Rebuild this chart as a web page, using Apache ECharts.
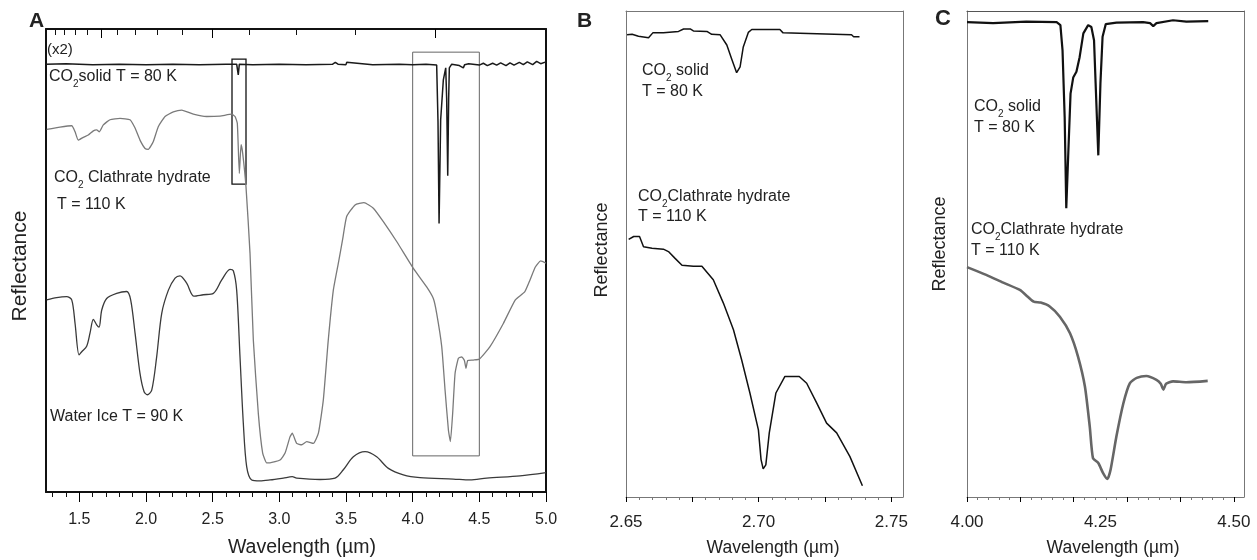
<!DOCTYPE html>
<html>
<head>
<meta charset="utf-8">
<script src="https://cdn.jsdelivr.net/npm/echarts@6/dist/echarts.min.js"></script>
<style>
html,body{margin:0;padding:0;background:#fff;}
#chart{width:1257px;height:560px;}
</style>
</head>
<body>
<div id="chart"></div>
<script>
// ---------------- DATA ----------------
// Panel A (full spectrum), reflectance in arbitrary units
const aSolidWl = [1.25,1.4,1.6,1.8,2.0,2.2,2.4,2.6,2.68,2.692,2.70,2.8,3.0,3.2,3.40,3.42,3.44,3.50,3.505,3.52,3.7,3.9,4.0,4.1,4.18,4.19,4.198,4.21,4.23,4.248,4.255,4.263,4.27,4.275,4.293,4.35,4.38,4.39,4.42,4.5,4.53,4.56,4.6,4.63,4.66,4.7,4.73,4.76,4.8,4.83,4.86,4.9,4.93,4.96,5.0];
const aSolidR  = [92.4,92.5,92.3,92.4,92.3,92.4,92.3,92.4,92.4,90.1,92.4,92.3,92.4,92.3,92.4,92.8,92.4,92.3,92.8,92.4,92.3,92.4,92.3,92.4,92.2,80.0,58.0,80.4,89.0,91.6,85.0,68.3,85.0,91.6,92.4,92.1,91.6,92.3,92.5,92.2,92.6,92.1,92.6,92.2,92.7,92.1,92.7,92.2,92.8,92.3,92.9,92.3,93.0,92.5,92.9];

const aClathWl = [1.255,1.355,1.443,1.468,1.492,1.53,1.567,1.605,1.63,1.65,1.68,1.73,1.805,1.88,1.918,1.955,1.993,2.017,2.055,2.092,2.143,2.205,2.268,2.355,2.455,2.555,2.643,2.668,2.685,2.70,2.713,2.725,2.75,2.78,2.805,2.842,2.875,2.905,2.93,3.005,3.043,3.08,3.097,3.13,3.168,3.205,3.255,3.293,3.33,3.367,3.405,3.443,3.475,3.505,3.568,3.635,3.705,3.78,3.88,4.005,4.105,4.155,4.18,4.218,4.243,4.268,4.283,4.30,4.318,4.343,4.368,4.388,4.40,4.413,4.455,4.5,4.58,4.68,4.77,4.84,4.88,4.92,4.96,5.0];
const aClathR  = [78.3,78.8,79.1,77.8,76.0,76.6,77.1,78.0,78.2,77.8,79.3,80.4,80.7,80.4,78.6,76.0,74.2,74.0,75.7,78.9,81.1,82.1,82.5,81.6,81.1,81.2,81.6,81.1,79.6,68.8,75.0,73.2,65.9,51.6,32.8,17.1,8.4,6.3,6.3,6.9,8.4,11.9,12.7,10.5,10.2,10.9,10.5,12.7,19.9,32.8,43.6,49.5,54.6,59.5,62.0,62.5,61.3,58.4,54.1,48.3,44.3,41.8,38.6,31.4,22.0,13.4,10.9,17.0,25.6,28.9,29.2,28.4,26.7,28.4,28.5,28.7,31.4,36.4,41.5,43.2,45.8,48.6,49.9,49.4];

const aIceWl = [1.255,1.33,1.405,1.443,1.468,1.498,1.518,1.555,1.58,1.605,1.63,1.648,1.668,1.705,1.78,1.855,1.885,1.918,1.955,1.985,2.01,2.043,2.08,2.118,2.168,2.218,2.255,2.305,2.36,2.43,2.505,2.568,2.63,2.655,2.68,2.705,2.73,2.755,2.793,2.855,2.93,3.03,3.097,3.13,3.305,3.418,3.48,3.555,3.643,3.73,3.818,3.93,4.055,4.305,4.43,4.555,4.805,5.0];
const aIceR  = [41.5,42.0,42.2,41.5,36.4,29.6,30.3,31.5,34.3,37.3,36.1,35.6,39.3,41.8,42.9,43.3,41.5,34.3,25.6,21.7,21.0,22.0,29.2,38.6,43.6,46.2,46.7,45.1,42.3,42.6,42.9,45.8,48.1,47.8,43.6,29.2,14.8,5.5,2.6,2.4,2.6,3.0,3.3,3.0,2.7,3.0,4.8,7.6,8.7,7.6,5.1,3.7,3.1,2.8,2.6,3.0,3.5,4.2];

// zoom boxes drawn on panel A
const smallBoxWl = [2.645, 2.75];
const smallBoxR  = [66.5, 93.5];
const largeBoxWl = [4.0, 4.5];
const largeBoxR  = [7.8, 95.0];

// Panel B (2.65-2.75 um)
const bSolidWl = [2.6504,2.6523,2.6547,2.6585,2.6601,2.6641,2.6698,2.6717,2.6742,2.6754,2.6805,2.6823,2.6855,2.688,2.6898,2.6917,2.693,2.6942,2.6961,2.6974,2.7017,2.708,2.7092,2.7155,2.735,2.7358,2.738];
const bSolidR  = [95.1,95.2,94.8,94.5,95.5,95.5,95.8,96.3,96.3,95.9,95.8,95.2,95.1,93.0,90.2,87.3,88.5,92.6,95.6,96.2,96.2,96.2,95.5,95.4,95.1,94.7,94.7];
const bClathWl = [2.651,2.6529,2.6551,2.6566,2.6598,2.6641,2.666,2.6685,2.6711,2.6754,2.6786,2.6829,2.6867,2.6905,2.6936,2.6967,2.6999,2.7009,2.7017,2.7027,2.704,2.7065,2.7099,2.7153,2.7181,2.7219,2.7256,2.7294,2.7344,2.7391];
const bClathR  = [53.0,53.6,53.6,51.5,51.2,51.0,50.5,49.1,47.7,47.5,47.5,44.7,39.9,34.4,28.2,21.4,13.8,7.7,5.8,6.6,13.2,21.4,24.8,24.8,23.4,19.3,15.2,13.2,8.3,2.3];

// Panel C (4.00-4.50 um)
const cSolidWl = [4.0,4.049,4.111,4.168,4.175,4.179,4.183,4.186,4.19,4.194,4.199,4.205,4.211,4.218,4.227,4.233,4.238,4.241,4.246,4.25,4.254,4.26,4.28,4.33,4.343,4.349,4.355,4.386,4.411,4.452];
const cSolidR  = [97.7,97.5,97.8,97.7,97.1,91.9,78.2,59.4,71.4,83.0,86.3,87.5,90.5,95.4,97.1,96.7,94.0,85.1,70.3,85.1,94.7,97.3,97.6,97.7,97.5,96.9,97.5,98.1,97.8,97.9];
const cClathWl = [4.0,4.036,4.068,4.099,4.114,4.125,4.138,4.155,4.174,4.193,4.208,4.221,4.23,4.236,4.246,4.255,4.263,4.269,4.28,4.293,4.305,4.318,4.336,4.355,4.363,4.368,4.373,4.386,4.411,4.451];
const cClathR  = [47.3,45.7,44.1,42.6,41.2,40.2,40.0,39.2,37.1,33.7,28.9,22.7,14.5,8.0,7.0,4.9,3.7,5.6,12.5,19.3,23.4,24.5,24.9,24.1,23.3,22.1,23.3,23.8,23.6,23.9];

// tick labels
const aTickLabels = [1.5,2.0,2.5,3.0,3.5,4.0,4.5,5.0];
const bTickLabels = [2.65,2.70,2.75];
const cTickLabels = [4.00,4.25,4.50];
const topWavenumbers = [2400,2800,3200,3600,4000,4400,4800,5200,5600,6000,6400,6800,7200,7600];
const topMajorWavenumbers = [2400,4000,6000];

// ---------------- BUILD ----------------
function zip(x, y){ return x.map((v,i)=>[v, y[i]]); }
function steps(a, b, s){ const out=[]; const n=Math.round((b-a)/s); for(let i=0;i<=n;i++) out.push(+(a+i*s).toFixed(4)); return out; }
const FONT = '"Liberation Sans", Arial, sans-serif';

const chart = echarts.init(document.getElementById('chart'), null, {renderer:'canvas'});

function tickAxis(grid, pos, min, max, ticks, len, inside, lineStyle, labels, fmt, fs, margin){
  return {
    type:'value', gridIndex:grid, position:pos, min:min, max:max,
    axisLine:{show: !!lineStyle, onZero:false, lineStyle: lineStyle || {}},
    axisTick:{show:true, customValues:ticks, length:len, inside:inside, lineStyle:{color: (lineStyle&&lineStyle.color)||'#000', width:1}},
    axisLabel: labels ? {show:true, customValues:labels, formatter:fmt, fontSize:fs, color:'#222', fontFamily:FONT, margin:margin} : {show:false},
    splitLine:{show:false}
  };
}
function frameY(grid, pos, lineStyle){
  return {type:'value', gridIndex:grid, position:pos, min:0, max:100,
    axisLine:{show:true, onZero:false, lineStyle:lineStyle},
    axisTick:{show:false}, axisLabel:{show:false}, splitLine:{show:false}};
}

const blackA = {color:'#111', width:2};
const grayB = {color:'#777', width:1};

const topTicks = topWavenumbers.map(v=>10000/v);
const topMajor = topMajorWavenumbers.map(v=>10000/v);

function sub(text1, text2){ return '{a|'+text1+'}{s|2}{a|'+text2+'}'; }
function richStyle(fs){
  return {a:{fontSize:fs, fontFamily:FONT, color:'#222', lineHeight:fs+4, verticalAlign:'middle'},
          s:{fontSize:Math.round(fs*0.62), fontFamily:FONT, color:'#222', lineHeight:fs+4, verticalAlign:'bottom', padding:[0,0,-2,0]}};
}
function txt(x, y, text, fs, opts){
  opts = opts || {};
  return {type:'text', x:x, y:y, rotation:opts.rot||0, silent:true,
    style:{text:text, x:0, y:0, fontSize:fs, fontFamily:FONT, fontWeight:opts.bold?'bold':'normal', fill:'#222',
      align:opts.align||'left', verticalAlign:'middle', rich:opts.rich}};
}

const option = {
  animation:false,
  backgroundColor:'#fff',
  grid:[
    {left:46, top:29, width:500, height:463},
    {left:626, top:11, width:277, height:486},
    {left:967, top:11, width:277, height:486}
  ],
  xAxis:[
    tickAxis(0,'bottom',1.25,5.0, steps(1.3,5.0,0.1), 5, false, blackA, aTickLabels, v=>v.toFixed(1), 16, 20),
    tickAxis(0,'bottom',1.25,5.0, aTickLabels, 10, false, null, null),
    tickAxis(0,'top',1.25,5.0, topTicks, 6, true, blackA, null),
    tickAxis(0,'top',1.25,5.0, topMajor, 9, true, null, null),
    tickAxis(1,'bottom',2.65,2.7544, steps(2.65,2.75,0.005), 3, false, grayB, bTickLabels, v=>v.toFixed(2), 17, 17),
    tickAxis(1,'bottom',2.65,2.7544, steps(2.65,2.75,0.025), 5, false, null, null),
    {type:'value', gridIndex:1, position:'top', min:2.65, max:2.7544, axisLine:{show:true, onZero:false, lineStyle:grayB}, axisTick:{show:false}, axisLabel:{show:false}, splitLine:{show:false}},
    tickAxis(2,'bottom',4.0,4.519, steps(4.0,4.5,0.02), 3, false, grayB, cTickLabels, v=>v.toFixed(2), 17, 17),
    tickAxis(2,'bottom',4.0,4.519, steps(4.0,4.5,0.1), 5, false, null, null),
    {type:'value', gridIndex:2, position:'top', min:4.0, max:4.519, axisLine:{show:true, onZero:false, lineStyle:{color:'#555', width:1.2}}, axisTick:{show:false}, axisLabel:{show:false}, splitLine:{show:false}}
  ],
  yAxis:[
    frameY(0,'left',blackA), frameY(0,'right',blackA),
    frameY(1,'left',grayB), frameY(1,'right',grayB),
    frameY(2,'left',grayB), frameY(2,'right',grayB)
  ],
  series:[
    {type:'line', xAxisIndex:0, yAxisIndex:0, data:zip(aSolidWl,aSolidR), showSymbol:false, lineStyle:{color:'#1a1a1a', width:1.5}, silent:true},
    {type:'line', xAxisIndex:0, yAxisIndex:0, data:zip(aClathWl,aClathR), showSymbol:false, smooth:0.15, lineStyle:{color:'#7a7a7a', width:1.3}, silent:true,
      markArea:{silent:true, data:[
        [{coord:[smallBoxWl[0], smallBoxR[1]], itemStyle:{color:'rgba(0,0,0,0)', borderColor:'#111', borderWidth:1.3}}, {coord:[smallBoxWl[1], smallBoxR[0]]}],
        [{coord:[largeBoxWl[0], largeBoxR[1]], itemStyle:{color:'rgba(0,0,0,0)', borderColor:'#666', borderWidth:1}}, {coord:[largeBoxWl[1], largeBoxR[0]]}]
      ]}},
    {type:'line', xAxisIndex:0, yAxisIndex:0, data:zip(aIceWl,aIceR), showSymbol:false, smooth:0.3, lineStyle:{color:'#3a3a3a', width:1.3}, silent:true},
    {type:'line', xAxisIndex:4, yAxisIndex:2, data:zip(bSolidWl,bSolidR), showSymbol:false, lineStyle:{color:'#111', width:1.5}, silent:true},
    {type:'line', xAxisIndex:4, yAxisIndex:2, data:zip(bClathWl,bClathR), showSymbol:false, lineStyle:{color:'#111', width:1.5}, silent:true},
    {type:'line', xAxisIndex:7, yAxisIndex:4, data:zip(cSolidWl,cSolidR), showSymbol:false, lineStyle:{color:'#111', width:2.2}, silent:true},
    {type:'line', xAxisIndex:7, yAxisIndex:4, data:zip(cClathWl,cClathR), showSymbol:false, smooth:0.2, lineStyle:{color:'#666', width:2.6}, silent:true}
  ],
  graphic:[
    txt(29, 21, 'A', 21, {bold:true}),
    txt(577, 21, 'B', 21, {bold:true}),
    txt(935, 19, 'C', 22, {bold:true}),
    txt(20, 266, 'Reflectance', 21, {rot:Math.PI/2, align:'center'}),
    txt(602, 250, 'Reflectance', 18, {rot:Math.PI/2, align:'center'}),
    txt(940, 244, 'Reflectance', 18, {rot:Math.PI/2, align:'center'}),
    txt(302, 548, 'Wavelength (µm)', 19.5, {align:'center'}),
    txt(773, 548, 'Wavelength (µm)', 17.5, {align:'center'}),
    txt(1113, 548, 'Wavelength (µm)', 17.5, {align:'center'}),
    txt(47, 50, '(x2)', 15),
    txt(49, 77, sub('CO','solid T = 80 K'), 16, {rich:richStyle(16)}),
    txt(54, 178, sub('CO',' Clathrate hydrate'), 16, {rich:richStyle(16)}),
    txt(57, 205, 'T = 110 K', 16),
    txt(50, 417, 'Water Ice T = 90 K', 16),
    txt(642, 71, sub('CO',' solid'), 16, {rich:richStyle(16)}),
    txt(642, 92, 'T = 80 K', 16),
    txt(638, 197, sub('CO','Clathrate hydrate'), 16, {rich:richStyle(16)}),
    txt(638, 217, 'T = 110 K', 16),
    txt(974, 107, sub('CO',' solid'), 16, {rich:richStyle(16)}),
    txt(974, 128, 'T = 80 K', 16),
    txt(971, 230, sub('CO','Clathrate hydrate'), 16, {rich:richStyle(16)}),
    txt(971, 251, 'T = 110 K', 16)
  ]
};
chart.setOption(option);
</script>
</body>
</html>
